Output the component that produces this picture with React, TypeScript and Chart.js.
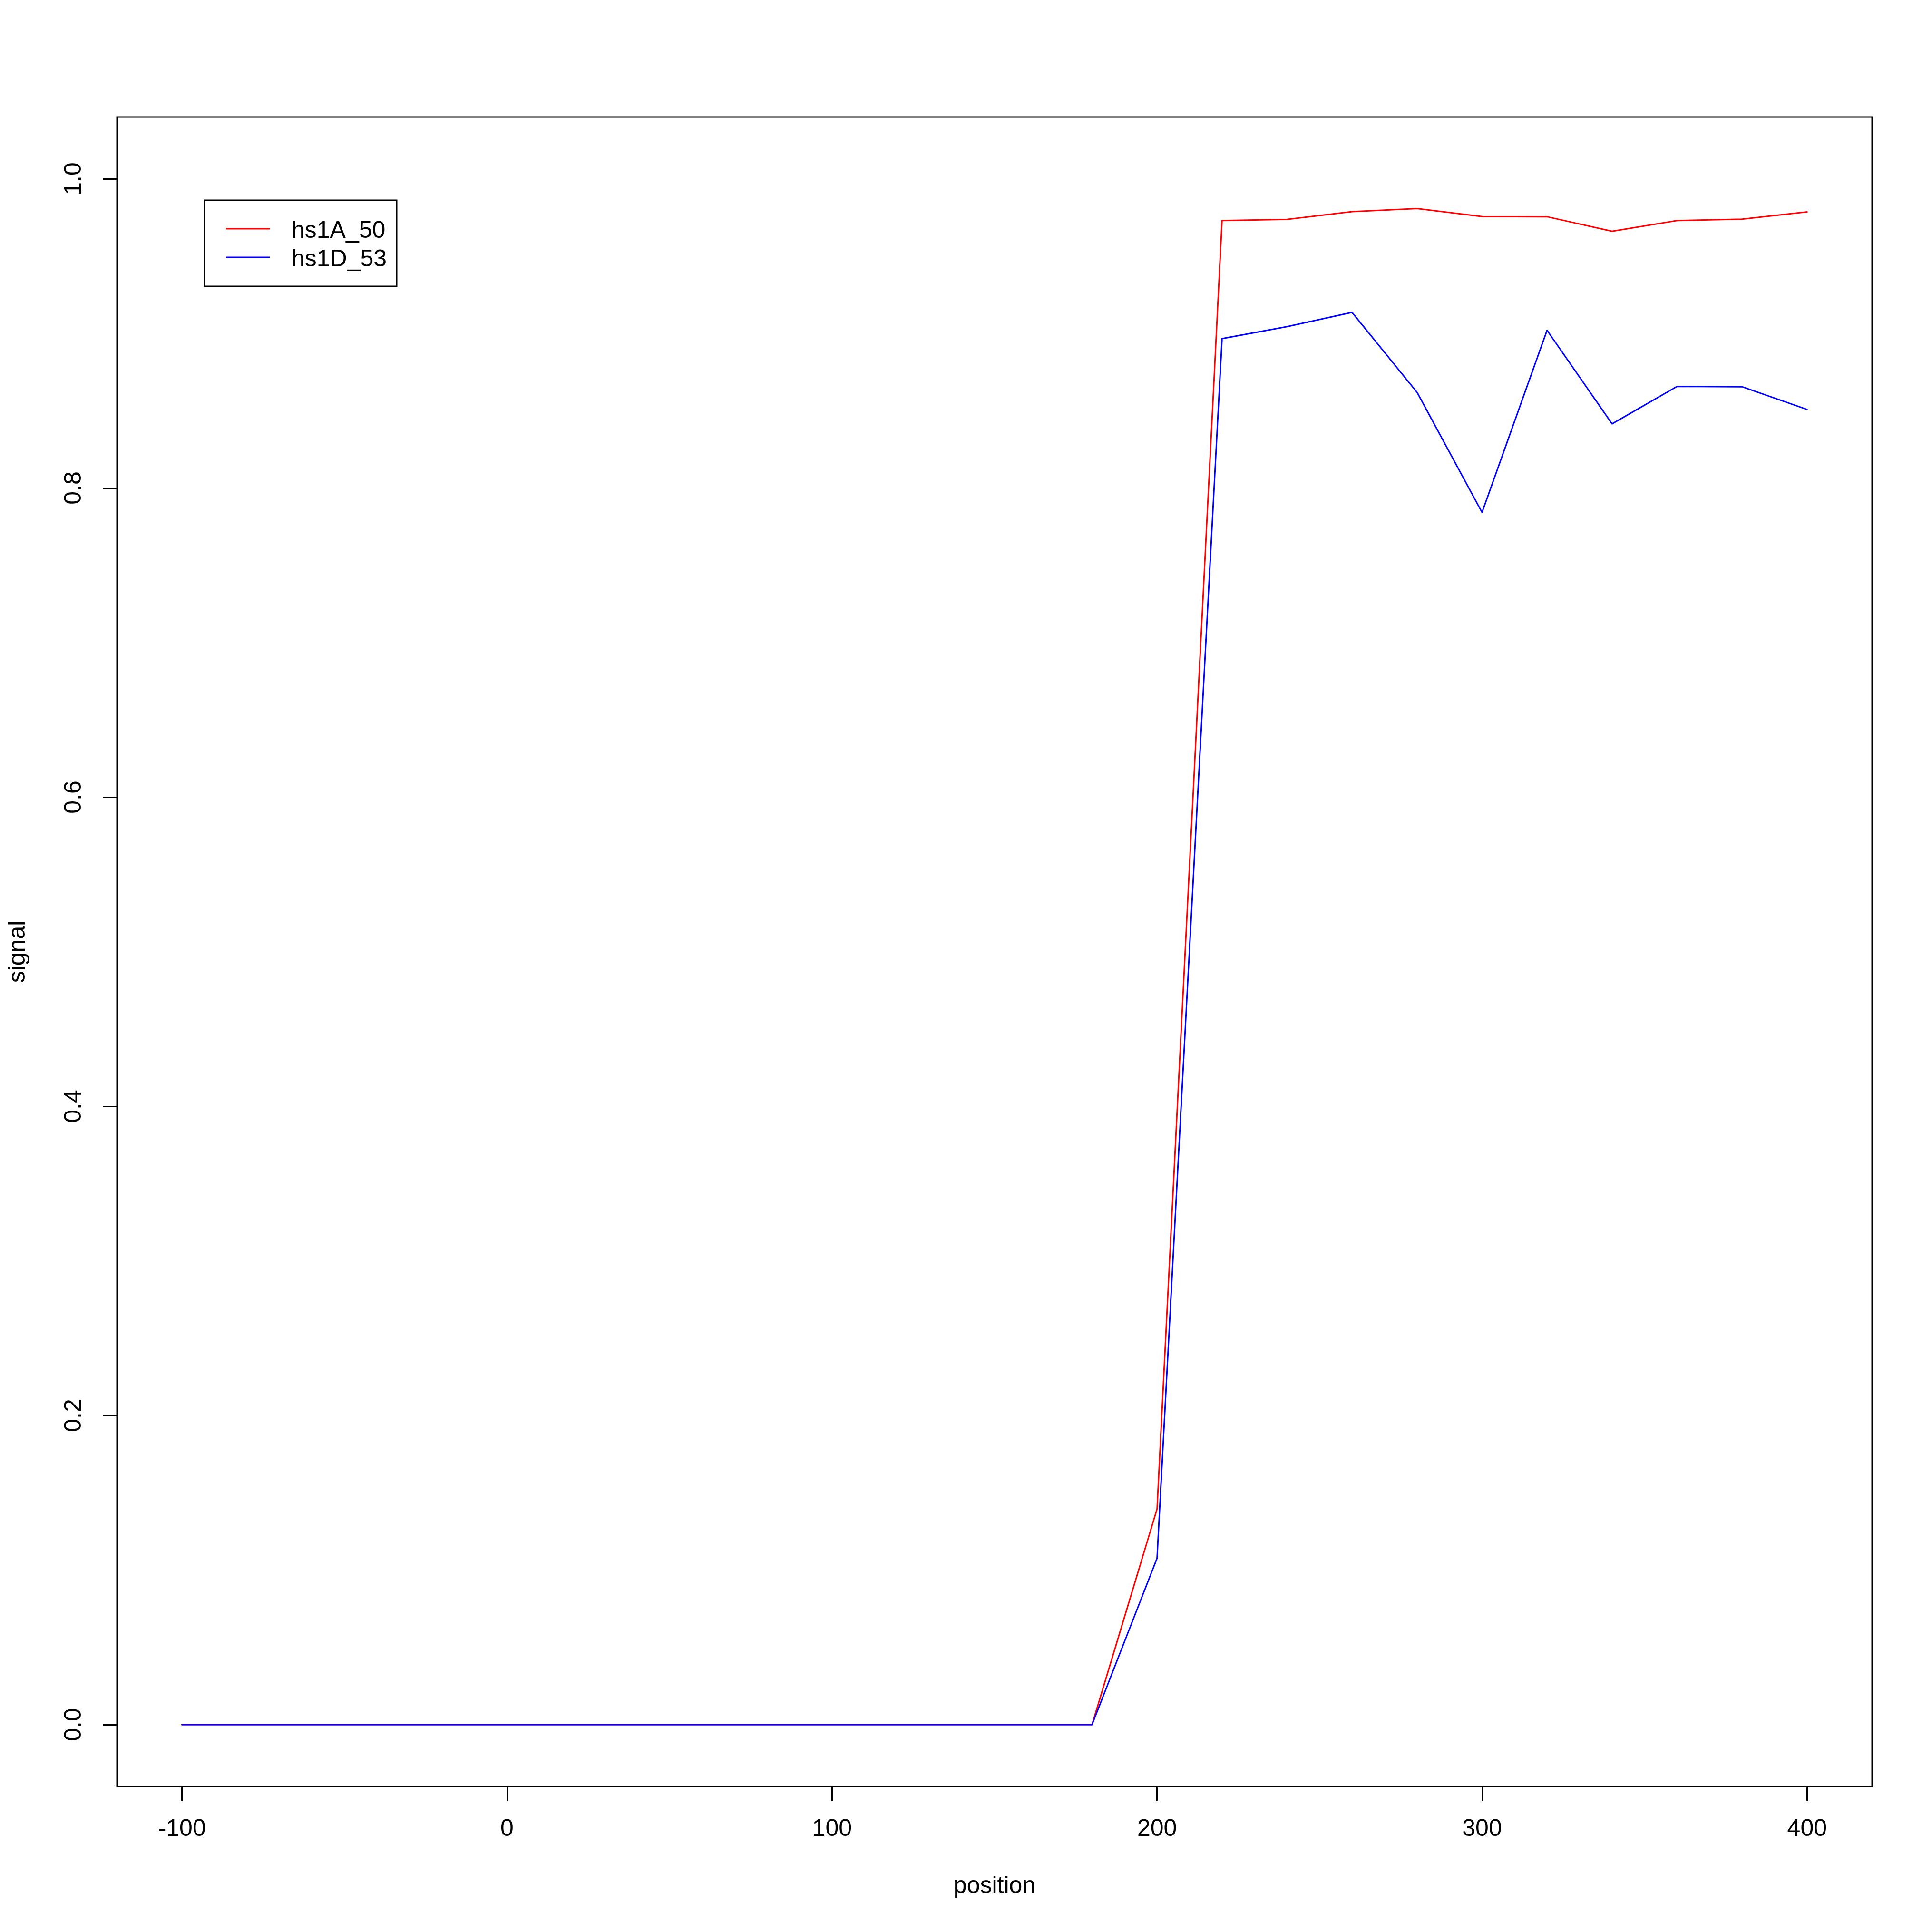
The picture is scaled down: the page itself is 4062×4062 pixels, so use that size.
import React, { useEffect, useRef } from 'react';
import { Chart, registerables } from 'chart.js';

Chart.register(...registerables);

// ---- data ----
const positions = [-100, -80, -60, -40, -20, 0, 20, 40, 60, 80, 100, 120, 140, 160, 180, 200, 220, 240, 260, 280, 300, 320, 340, 360, 380, 400];
const hs1A_50 = [0, 0, 0, 0, 0, 0, 0, 0, 0, 0, 0, 0, 0, 0, 0, 0.1395, 0.973, 0.9738, 0.9788, 0.9808, 0.9756, 0.9755, 0.9661, 0.973, 0.9739, 0.9786];
const hs1D_53 = [0, 0, 0, 0, 0, 0, 0, 0, 0, 0, 0, 0, 0, 0, 0, 0.1076, 0.8966, 0.9044, 0.9136, 0.8619, 0.7842, 0.902, 0.8415, 0.8657, 0.8655, 0.8508];
const seriesNames = ['hs1A_50', 'hs1D_53'];
const seriesColors = ['#FF0000', '#0000FF'];
const xTicks = [-100, 0, 100, 200, 300, 400];
const yTicks = [0, 0.2, 0.4, 0.6, 0.8, 1.0];
const xLabel = 'position';
const yLabel = 'signal';

const FAMILY = '"Liberation Sans", Arial, Helvetica, sans-serif';
const FS = 50;

const framePlugin = {
  id: 'rframe',
  beforeDraw(chart: any) {
    const { ctx, width, height } = chart;
    ctx.save();
    ctx.fillStyle = '#FFFFFF';
    ctx.fillRect(0, 0, width, height);
    ctx.restore();
  },
  afterDraw(chart: any) {
    const { ctx, chartArea } = chart;
    const { left, top, right, bottom } = chartArea;
    ctx.save();
    ctx.strokeStyle = '#000000';
    ctx.lineWidth = 3;
    ctx.strokeRect(left, top, right - left, bottom - top);
    // legend box
    const bx = left + 184;
    const by = top + 175;
    ctx.strokeRect(bx, by, 404, 181);
    seriesNames.forEach((name, i) => {
      const rowY = by + 60 + i * 60;
      ctx.strokeStyle = seriesColors[i];
      ctx.lineWidth = 3;
      ctx.beginPath();
      ctx.moveTo(bx + 45, rowY);
      ctx.lineTo(bx + 137, rowY);
      ctx.stroke();
      ctx.fillStyle = '#000000';
      ctx.font = `${FS}px ${FAMILY}`;
      ctx.textAlign = 'left';
      ctx.textBaseline = 'alphabetic';
      ctx.fillText(name, bx + 183, rowY + 19);
    });
    ctx.restore();
  },
};

export default function App() {
  const ref = useRef<HTMLCanvasElement | null>(null);

  useEffect(() => {
    if (!ref.current) return;
    const font = { family: FAMILY, size: FS };
    const chart = new Chart(ref.current, {
      type: 'line',
      data: {
        datasets: [
          {
            label: seriesNames[0],
            data: positions.map((x, i) => ({ x, y: hs1A_50[i] })),
            borderColor: seriesColors[0],
            backgroundColor: seriesColors[0],
            borderWidth: 3,
            pointRadius: 0,
            fill: false,
            tension: 0,
            borderJoinStyle: 'round',
            borderCapStyle: 'round',
            order: 2,
          },
          {
            label: seriesNames[1],
            data: positions.map((x, i) => ({ x, y: hs1D_53[i] })),
            borderColor: seriesColors[1],
            backgroundColor: seriesColors[1],
            borderWidth: 3,
            pointRadius: 0,
            fill: false,
            tension: 0,
            borderJoinStyle: 'round',
            borderCapStyle: 'round',
            order: 1,
          },
        ],
      },
      options: {
        responsive: false,
        maintainAspectRatio: false,
        animation: false,
        devicePixelRatio: 1,
        events: [],
        layout: { padding: { left: 0, right: 126, top: 246, bottom: 0 } },
        plugins: {
          legend: { display: false },
          tooltip: { enabled: false },
        },
        scales: {
          x: {
            type: 'linear',
            position: 'bottom',
            min: -120,
            max: 420,
            afterBuildTicks: (s: any) => {
              s.ticks = xTicks.map((v) => ({ value: v }));
            },
            afterFit: (s: any) => {
              s.height = 306;
              s.paddingLeft = 0;
              s.paddingRight = 0;
            },
            ticks: {
              autoSkip: false,
              minRotation: 0,
              maxRotation: 0,
              padding: 30,
              font,
              color: '#000000',
              callback: (v: any) => String(v),
            },
            grid: {
              display: true,
              drawOnChartArea: false,
              drawTicks: true,
              tickLength: 30,
              tickWidth: 3,
              tickColor: '#000000',
            },
            border: { display: true, color: '#000000', width: 3 },
            title: {
              display: true,
              text: xLabel,
              font,
              color: '#000000',
              padding: { top: 0, bottom: 66 },
            },
          },
          y: {
            type: 'linear',
            position: 'left',
            min: -0.04,
            max: 1.04,
            afterBuildTicks: (s: any) => {
              s.ticks = yTicks.map((v) => ({ value: v }));
            },
            afterFit: (s: any) => {
              s.width = 246;
              s.paddingTop = 0;
              s.paddingBottom = 0;
            },
            ticks: {
              autoSkip: false,
              minRotation: 90,
              maxRotation: 90,
              crossAlign: 'center',
              padding: 25,
              font,
              color: '#000000',
              callback: (v: any) => Number(v).toFixed(1),
            },
            grid: {
              display: true,
              drawOnChartArea: false,
              drawTicks: true,
              tickLength: 30,
              tickWidth: 3,
              tickColor: '#000000',
            },
            border: { display: true, color: '#000000', width: 3 },
            title: {
              display: true,
              text: yLabel,
              font,
              color: '#000000',
              padding: { top: 8, bottom: 0 },
            },
          },
        },
      },
      plugins: [framePlugin],
    } as any);
    return () => {
      chart.destroy();
    };
  }, []);

  return (
    <div style={{ position: 'absolute', left: 0, top: 0, width: 4062, height: 4062, background: '#FFFFFF' }}>
      <canvas ref={ref} width={4062} height={4062} style={{ display: 'block', width: 4062, height: 4062 }} />
    </div>
  );
}
